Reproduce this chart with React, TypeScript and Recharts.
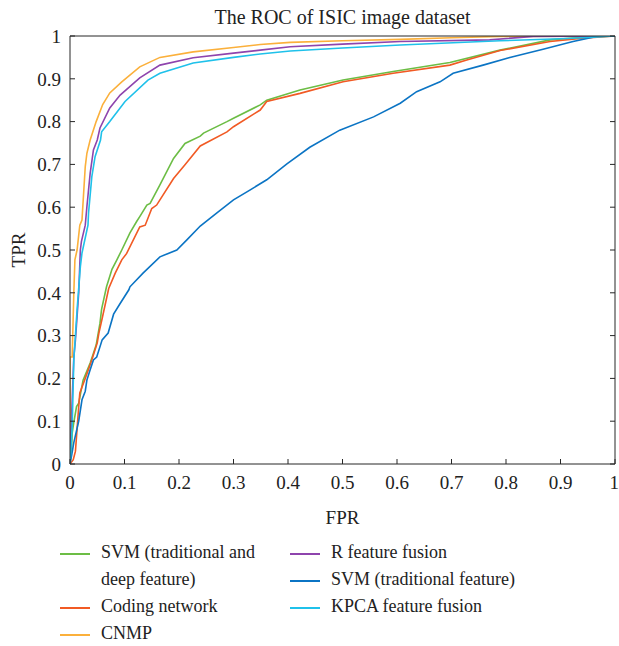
import React from 'react';
import { LineChart, Line, XAxis, YAxis, Legend } from 'recharts';

type Pt = { x: number; y: number };
const toPts = (a: number[][]): Pt[] => a.map(([x, y]) => ({ x, y }));

const titleText = 'The ROC of ISIC image dataset';
const xLabel = 'FPR';
const yLabel = 'TPR';
const axisTicks = [0, 0.1, 0.2, 0.3, 0.4, 0.5, 0.6, 0.7, 0.8, 0.9, 1];

const svmDeep = [
  [0, 0], [0.003, 0.04], [0.004, 0.072], [0.007, 0.097], [0.012, 0.134], [0.016, 0.142],
  [0.024, 0.196], [0.037, 0.236], [0.043, 0.259], [0.048, 0.278], [0.055, 0.329], [0.058, 0.362],
  [0.067, 0.414], [0.077, 0.455], [0.086, 0.477], [0.095, 0.5], [0.11, 0.54], [0.122, 0.566],
  [0.128, 0.578], [0.141, 0.605], [0.147, 0.609], [0.165, 0.652], [0.19, 0.714], [0.211, 0.749],
  [0.239, 0.766], [0.245, 0.773], [0.288, 0.8], [0.3, 0.808], [0.349, 0.839], [0.361, 0.85],
  [0.422, 0.874], [0.501, 0.897], [0.593, 0.917], [0.697, 0.938], [0.789, 0.967], [0.881, 0.991],
  [0.941, 0.997], [1, 1],
];
const codingNet = [
  [0, 0], [0.006, 0.01], [0.01, 0.03], [0.016, 0.134], [0.018, 0.166], [0.028, 0.2], [0.04, 0.243],
  [0.05, 0.283], [0.053, 0.306], [0.059, 0.34], [0.071, 0.41], [0.083, 0.446], [0.095, 0.477],
  [0.104, 0.492], [0.128, 0.554], [0.138, 0.558], [0.15, 0.597], [0.159, 0.605], [0.165, 0.617],
  [0.19, 0.667], [0.211, 0.699], [0.239, 0.743], [0.288, 0.776], [0.3, 0.788], [0.349, 0.827],
  [0.361, 0.847], [0.422, 0.866], [0.501, 0.893], [0.593, 0.913], [0.697, 0.932], [0.728, 0.944],
  [0.789, 0.966], [0.881, 0.987], [0.941, 0.995], [1, 1],
];
const cnmp = [
  [0, 0], [0, 0.25], [0.004, 0.25], [0.007, 0.4], [0.009, 0.477], [0.013, 0.5], [0.018, 0.558],
  [0.022, 0.57], [0.028, 0.695], [0.031, 0.726], [0.037, 0.757], [0.048, 0.8], [0.06, 0.84],
  [0.073, 0.867], [0.095, 0.893], [0.128, 0.928], [0.165, 0.95], [0.226, 0.963], [0.3, 0.973],
  [0.349, 0.98], [0.404, 0.985], [0.5, 0.989], [0.606, 0.992], [0.7, 0.996], [0.79, 0.999], [1, 1],
];
const rFusion = [
  [0, 0], [0.004, 0.15], [0.007, 0.25], [0.01, 0.29], [0.016, 0.4], [0.019, 0.5], [0.021, 0.52],
  [0.028, 0.558], [0.031, 0.601], [0.037, 0.679], [0.043, 0.734], [0.05, 0.757], [0.055, 0.785],
  [0.073, 0.832], [0.092, 0.862], [0.128, 0.902], [0.165, 0.932], [0.226, 0.949], [0.3, 0.96],
  [0.349, 0.967], [0.404, 0.975], [0.5, 0.981], [0.606, 0.987], [0.77, 0.991], [0.85, 0.999], [1, 1],
];
const svmTrad = [
  [0, 0], [0.003, 0.02], [0.007, 0.05], [0.016, 0.1], [0.022, 0.15], [0.028, 0.17], [0.031, 0.196],
  [0.037, 0.22], [0.043, 0.243], [0.049, 0.25], [0.059, 0.29], [0.07, 0.306], [0.08, 0.35],
  [0.092, 0.375], [0.108, 0.407], [0.11, 0.414], [0.134, 0.446], [0.165, 0.484], [0.196, 0.5],
  [0.214, 0.523], [0.239, 0.556], [0.269, 0.586], [0.3, 0.617], [0.33, 0.64], [0.361, 0.664],
  [0.398, 0.701], [0.44, 0.74], [0.495, 0.78], [0.557, 0.811], [0.606, 0.843], [0.636, 0.87],
  [0.679, 0.893], [0.703, 0.913], [0.758, 0.932], [0.807, 0.95], [0.868, 0.969], [0.923, 0.987],
  [0.966, 0.999], [1, 1],
];
const kpcaFusion = [
  [0, 0], [0.004, 0.087], [0.007, 0.243], [0.013, 0.36], [0.019, 0.461], [0.022, 0.493],
  [0.033, 0.558], [0.034, 0.586], [0.04, 0.671], [0.046, 0.718], [0.056, 0.757], [0.058, 0.776],
  [0.073, 0.8], [0.101, 0.847], [0.143, 0.897], [0.165, 0.913], [0.226, 0.937], [0.3, 0.95],
  [0.349, 0.958], [0.404, 0.965], [0.5, 0.972], [0.606, 0.979], [0.789, 0.989], [0.912, 0.994], [1, 1],
];

const seriesNames = [
  'SVM (traditional and deep feature)',
  'Coding network',
  'CNMP',
  'R feature fusion',
  'SVM (traditional feature)',
  'KPCA feature fusion',
];
const seriesData = [svmDeep, codingNet, cnmp, rFusion, svmTrad, kpcaFusion];
const seriesColors = ['#6cbd45', '#f15a24', '#fbb03b', '#8e44ad', '#0b74c4', '#1fc1ea'];

const FONT = "'Liberation Serif', 'DejaVu Serif', serif";
const AXIS = '#262626';

const LegendItem = ({ i }: { i: number }) => (
  <div style={{ display: 'flex', alignItems: 'flex-start' }}>
    <div style={{ width: 30, height: 2, background: seriesColors[i], marginTop: 14, marginRight: 11, flexShrink: 0 }} />
    <div style={{ width: i < 3 ? 170 : 260, lineHeight: '27px', color: '#222', fontFamily: FONT }}>{seriesNames[i]}</div>
  </div>
);

const LegendContent = () => (
  <div style={{ display: 'flex', fontFamily: FONT, fontSize: 18 }}>
    <div style={{ marginLeft: 60, width: 230 }}>
      {[0, 1, 2].map((i) => <LegendItem key={i} i={i} />)}
    </div>
    <div>
      {[3, 4, 5].map((i) => <LegendItem key={i} i={i} />)}
    </div>
  </div>
);

const TprLabel = (props: any) => {
  const vb = props.viewBox || { x: 10, y: 36, width: 60, height: 428 };
  const cx = vb.x + 15;
  const cy = vb.y + vb.height / 2;
  return (
    <text x={cx} y={cy} transform={`rotate(-90 ${cx} ${cy})`} textAnchor="middle" fill="#222" fontSize={19} style={{ fontFamily: FONT }}>
      {yLabel}
    </text>
  );
};

const tickStyle = { fill: '#222', fontSize: 19, style: { fontFamily: FONT } };

export default function App() {
  return (
    <div style={{ position: 'absolute', left: 0, top: 0, width: 619, height: 646, background: '#fff', fontFamily: FONT }}>
      <LineChart width={619} height={646} margin={{ top: 35, right: 3, bottom: 122, left: 10 }} style={{ fontFamily: FONT }}>
        <XAxis
          xAxisId="b"
          dataKey="x"
          type="number"
          domain={[0, 1]}
          ticks={axisTicks}
          allowDataOverflow
          height={60}
          tickSize={-5}
          tickMargin={17}
          stroke={AXIS}
          tick={tickStyle}
          label={{ value: xLabel, position: 'insideBottom', offset: 0, fill: '#222', fontSize: 19, style: { fontFamily: FONT } }}
        />
        <XAxis
          xAxisId="t"
          orientation="top"
          type="number"
          domain={[0, 1]}
          ticks={axisTicks}
          allowDataOverflow
          height={1}
          tickSize={-5}
          stroke={AXIS}
          tickFormatter={() => ''}
          label={{ value: titleText, position: 'top', offset: 11, fill: '#222', fontSize: 20, style: { fontFamily: FONT } }}
        />
        <YAxis
          yAxisId="l"
          type="number"
          domain={[0, 1]}
          ticks={axisTicks}
          allowDataOverflow
          width={60}
          tickSize={-5}
          tickMargin={14}
          stroke={AXIS}
          tick={tickStyle}
          label={<TprLabel />}
        />
        <YAxis
          yAxisId="r"
          orientation="right"
          type="number"
          domain={[0, 1]}
          ticks={axisTicks}
          allowDataOverflow
          width={1}
          tickSize={-5}
          stroke={AXIS}
          tickFormatter={() => ''}
        />
        {seriesData.map((d, i) => (
          <Line
            key={seriesNames[i]}
            xAxisId="b"
            yAxisId="l"
            data={toPts(d)}
            dataKey="y"
            name={seriesNames[i]}
            type="linear"
            stroke={seriesColors[i]}
            strokeWidth={1.6}
            dot={false}
            activeDot={false}
            isAnimationActive={false}
          />
        ))}
        <Legend
          layout="horizontal"
          verticalAlign="middle"
          align="center"
          wrapperStyle={{ left: 0, top: 539, width: 619 }}
          content={<LegendContent />}
        />
      </LineChart>
    </div>
  );
}
